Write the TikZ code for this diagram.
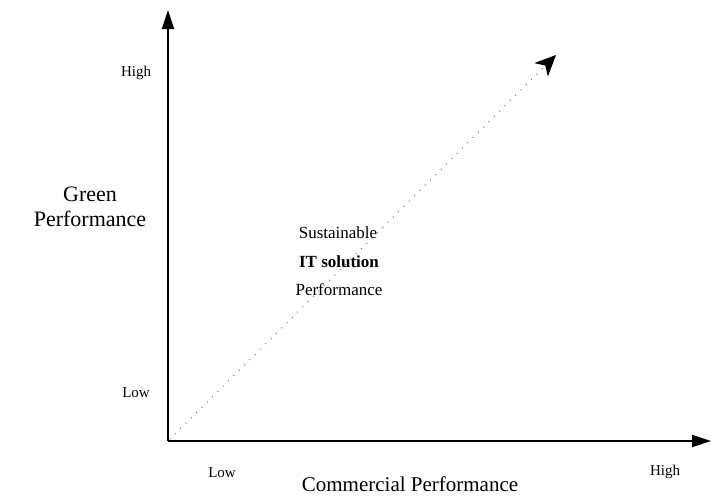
\documentclass[tikz,border=0pt]{standalone}
\usepackage{fontspec}
\setmainfont{Liberation Serif}
\usepackage{tikz}
\usetikzlibrary{arrows.meta, positioning}

\tikzset{
    axis/.style={line width=1.8pt, -{Triangle[length=19pt, width=12pt]}},
    tick/.style={font=\fontsize{15}{18}\selectfont},
    axlabel/.style={font=\fontsize{22}{25}\selectfont, align=center},
    mid/.style={font=\fontsize{17}{20}\selectfont}
}

\begin{document}
\begin{tikzpicture}[x=1pt, y=-1pt]
        \useasboundingbox (0, 0) rectangle (711, 496);
        \coordinate (o) at (168, 441);
        \coordinate (ytop) at (168, 10);
        \coordinate (xend) at (711, 441);
        \coordinate (dstart) at (170, 439);
        \coordinate (dend) at (556, 55);

        \node[tick] (yhigh) at (136, 73) {High};
        \node[tick] (ylow) at (136, 393) {Low};
        \node[tick] (xlow) at (222, 473) {Low};
        \node[tick] (xhigh) at (665, 472) {High};
        \node[axlabel] (green) at (90, 207) {Green\\Performance};
        \node[axlabel, font=\fontsize{21}{25}\selectfont] (comm) at (410, 484) {Commercial Performance};

        \node[mid] (sust) at (338, 233) {Sustainable};
        \node[mid, font=\fontsize{17}{20}\selectfont\bfseries] (its) at (339, 262) {IT solution};
        \node[mid] (perf) at (339, 290) {Performance};

        \draw[axis] (o) -- (ytop);
        \draw[axis] (o) -- (xend);
        \draw[line width=1.3pt, line cap=round, dash pattern=on 0pt off 7.5pt, gray!80!black,
            -{Stealth[length=21pt, width=19pt, inset=6pt, black, line cap=butt]}] (dstart) -- (dend);
    \end{tikzpicture}
\end{document}
